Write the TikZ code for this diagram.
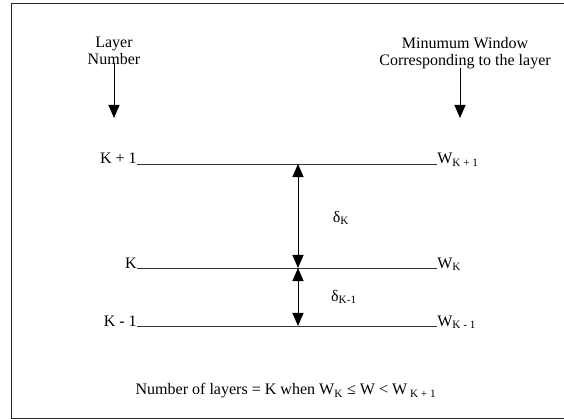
\documentclass[tikz,border=0pt]{standalone}
\usepackage{fontspec}
\setmainfont{Liberation Serif}
\usepackage{tikz}
\usetikzlibrary{arrows.meta,positioning,calc}

\begin{document}
\begin{tikzpicture}[
            x=0.025cm, y=-0.025cm,
            font=\fontsize{11.4}{12.2}\selectfont,
            >={Triangle[length=3.3mm,width=2.8mm]},
            level/.style={line width=0.6pt, black!80},
            arrow/.style={->, line width=0.6pt},
            dimarrow/.style={<->, line width=0.6pt},
            head/.style={align=center, inner sep=1pt},
            lnum/.style={anchor=base east, inner sep=0pt},
            wlab/.style={anchor=base west, inner sep=0pt}
        ]
        \useasboundingbox (0,0) rectangle (564,419);
        % frame, open on the right
        \draw[line width=0.7pt, black!85] (570,3) -- (11,3) -- (11,418) -- (570,418);

        \node[head] (layerhead) at (114,51) {Layer\\Number};
        \node[head] (winhead) at (465,53) {Minumum Window\\Corresponding to the layer};
        \coordinate (layertip) at (114,118);
        \coordinate (wintip) at (460,118);
        \draw[arrow] (layerhead.south) ++(0,-4) -- (layertip);
        \draw[arrow] (winhead.south -| wintip) ++(0,-3) -- (wintip);

        % the three layers
        \coordinate (kpL) at (137,164);
        \coordinate (kpR) at (437,164);
        \coordinate (kL) at (137,268);
        \coordinate (kR) at (437,268);
        \coordinate (kmL) at (137,326);
        \coordinate (kmR) at (437,326);

        \draw[level] (kpL) -- (kpR);
        \draw[level] (kL) -- (kR);
        \draw[level] (kmL) -- (kmR);

        \node[lnum] (kp) at (kpL) {K + 1};
        \node[lnum] (k) at (kL) {K};
        \node[lnum] (km) at (kmL) {K - 1};
        \node[wlab] (wkp) at (kpR) {W\textsubscript{K + 1}};
        \node[wlab] (wk) at (kR) {W\textsubscript{K}};
        \node[wlab] (wkm) at (kmR) {W\textsubscript{K - 1}};

        % window differences
        \coordinate (dtop) at (298,164);
        \coordinate (dmid) at (298,268);
        \coordinate (dbot) at (298,326);
        \draw[dimarrow] (dtop) -- (dmid);
        \draw[dimarrow] (dmid) -- (dbot);
        \node (dk) at (341,218) {δ\textsubscript{K}};
        \node (dkm) at (344,297) {δ\textsubscript{K-1}};

        \node (rule) at (286,391) {Number of layers = K when W\textsubscript{K} ≤ W < W\textsubscript{ K + 1}};
    \end{tikzpicture}
\end{document}
